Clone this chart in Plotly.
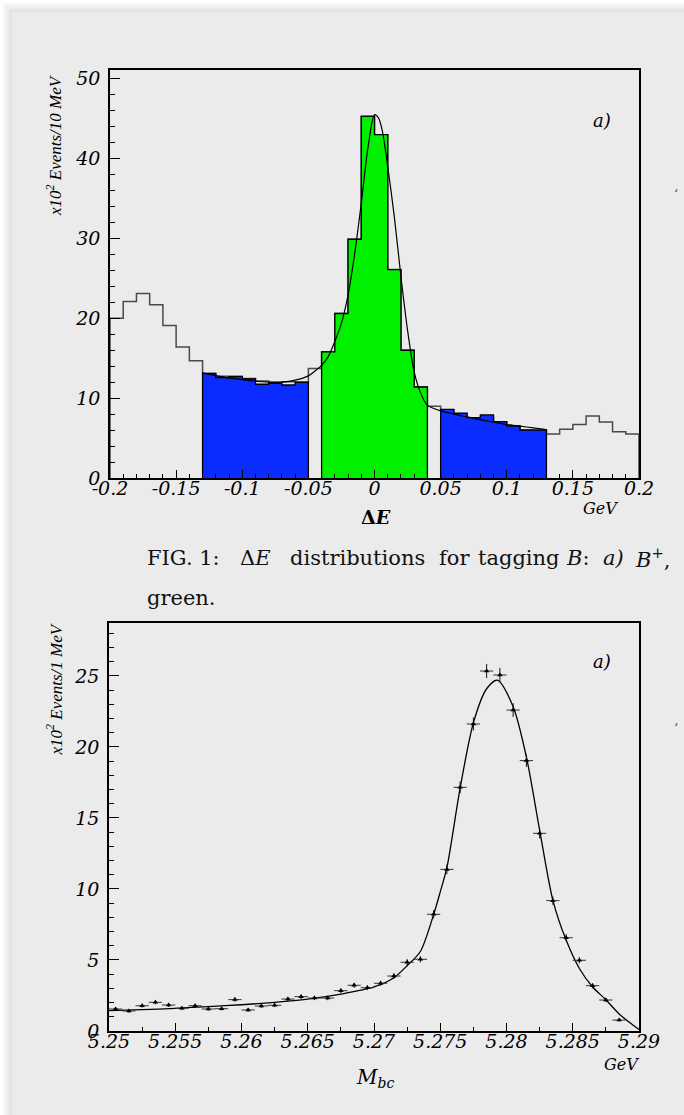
import plotly.graph_objects as go

W, H = 684, 1115

# ---------------- Data: top panel (Delta E histogram) ----------------
de_lo = -0.2
de_width = 0.01
# total (open) histogram, 40 bins from -0.2 to 0.2, units of 10^2 events / 10 MeV
de_total = [20.0, 22.1, 23.1, 21.7, 19.1, 16.4, 14.7,
            13.1, 12.75, 12.75, 12.45, 12.15, 12.0, 12.05, 12.0,
            13.7,
            15.8, 20.6, 29.9, 45.3, 43.0, 26.1, 16.0, 11.4,
            9.0,
            8.55, 8.1, 7.55, 7.6, 7.05, 6.55, 6.05, 6.0,
            5.5, 6.1, 6.7, 7.75, 7.0, 5.8, 5.5]
# signal window (green) bins -0.04..0.04
de_green_start = 16
de_green = [15.8, 20.6, 29.9, 45.3, 43.0, 26.1, 16.0, 11.4]
# side-band (blue) bins -0.13..-0.05 and 0.05..0.13
de_blue_left_start = 7
de_blue_left = [13.1, 12.57, 12.7, 12.4, 11.74, 11.86, 11.65, 11.99]
de_blue_right_start = 25
de_blue_right = [8.6, 8.1, 7.56, 7.9, 7.06, 6.5, 6.0, 6.0]
# fit curve
de_fit_x = [-0.13, -0.12, -0.11, -0.10, -0.09, -0.08, -0.07, -0.06, -0.05, -0.045,
            -0.04, -0.035, -0.03, -0.025, -0.02, -0.015, -0.01, -0.005, 0.0, 0.003,
            0.006, 0.01, 0.015, 0.02, 0.025, 0.03, 0.035, 0.04, 0.045, 0.05,
            0.06, 0.07, 0.08, 0.09, 0.10, 0.11, 0.12, 0.13]
de_fit_y = [13.17, 12.83, 12.54, 12.33, 12.12, 12.0, 12.0, 12.25, 12.79, 13.4,
            14.1, 15.2, 17.1, 19.4, 22.9, 28.1, 34.4, 41.3, 45.5, 45.1,
            43.4, 39.0, 32.7, 25.2, 18.5, 13.3, 10.6, 9.1, 8.7, 8.4,
            8.0, 7.65, 7.3, 7.0, 6.7, 6.5, 6.27, 6.06]
de_ticks = [-0.2, -0.15, -0.1, -0.05, 0, 0.05, 0.1, 0.15, 0.2]
de_ticktext = ["-0.2", "-0.15", "-0.1", "-0.05", "0", "0.05", "0.1", "0.15", "0.2"]
de_yticks = [0, 10, 20, 30, 40, 50]
de_yticktext = ["0", "10", "20", "30", "40", "50"]

# ---------------- Data: bottom panel (Mbc) ----------------
mbc_x = [5.2505, 5.2515, 5.2525, 5.2535, 5.2545, 5.2555, 5.2565, 5.2575, 5.2585, 5.2595,
         5.2605, 5.2615, 5.2625, 5.2635, 5.2645, 5.2655, 5.2665, 5.2675, 5.2685, 5.2695,
         5.2705, 5.2715, 5.2725, 5.2735, 5.2745, 5.2755, 5.2765, 5.2775, 5.2785, 5.2795,
         5.2805, 5.2815, 5.2825, 5.2835, 5.2845, 5.2855, 5.2865, 5.2875, 5.2885]
mbc_y = [1.55, 1.41, 1.78, 2.02, 1.83, 1.60, 1.78, 1.55, 1.57, 2.21,
         1.48, 1.76, 1.81, 2.25, 2.42, 2.32, 2.32, 2.84, 3.22, 3.05,
         3.36, 3.87, 4.84, 5.05, 8.22, 11.38, 17.16, 21.62, 25.35, 25.07,
         22.6, 19.04, 13.92, 9.18, 6.57, 4.98, 3.19, 2.18, 0.77]
mbc_err = [0.12, 0.12, 0.13, 0.14, 0.14, 0.13, 0.13, 0.12, 0.13, 0.15,
           0.12, 0.13, 0.13, 0.15, 0.16, 0.15, 0.15, 0.17, 0.18, 0.17,
           0.18, 0.20, 0.22, 0.22, 0.29, 0.34, 0.41, 0.46, 0.50, 0.50,
           0.48, 0.44, 0.37, 0.30, 0.26, 0.22, 0.18, 0.15, 0.09]
mbc_halfbin = 0.0005
mbc_fit_x = [5.25, 5.2525, 5.255, 5.2575, 5.26, 5.2625, 5.265, 5.2675, 5.27, 5.2715,
             5.2725, 5.2735, 5.2745, 5.275, 5.2755, 5.2765, 5.2775, 5.2785, 5.2793, 5.2805,
             5.2815, 5.2825, 5.2835, 5.2845, 5.2855, 5.2865, 5.2875, 5.2885, 5.29]
mbc_fit_y = [1.43, 1.5, 1.6, 1.72, 1.85, 2.02, 2.25, 2.6, 3.1, 3.75,
             4.6, 5.6, 8.2, 9.8, 11.5, 17.1, 21.7, 24.1, 24.7, 22.84,
             19.3, 14.15, 9.2, 6.4, 4.4, 3.1, 2.2, 1.2, 0.1]
mbc_ticks = [5.25, 5.255, 5.26, 5.265, 5.27, 5.275, 5.28, 5.285, 5.29]
mbc_ticktext = ["5.25", "5.255", "5.26", "5.265", "5.27", "5.275", "5.28", "5.285", "5.29"]
mbc_yticks = [0, 5, 10, 15, 20, 25]
mbc_yticktext = ["0", "5", "10", "15", "20", "25"]

# caption words (text, left edge in px)
caption_words = [("FIG. 1:", 145), ("Δ<i>E</i>", 238), ("distributions", 288),
                 ("for", 437), ("tagging", 476), ("<i>B</i>:", 564), ("<i>a)</i>", 601),
                 ("<i>B</i><sup>+</sup>,", 633)]

# ---------------- Styling ----------------
CARD = "#ebebeb"
GREEN = "#00f000"
BLUE = "#0c2cff"
TICKFONT = dict(family="DejaVu Serif", size=19, color="black")


def px(x):
    return x / W


def py(y):
    return 1 - y / H


def ital(labels):
    return ["<i>%s</i>" % t for t in labels]


def step_path(lo, width, vals):
    xs, ys = [lo], [0]
    for i, v in enumerate(vals):
        xs.append(lo + i * width)
        ys.append(v)
    end = lo + len(vals) * width
    xs += [end, end]
    ys += [vals[-1], 0]
    return xs, ys


fig = go.Figure()

# top panel: open histogram
xs, ys = step_path(de_lo, de_width, de_total)
fig.add_trace(go.Scatter(x=xs, y=ys, mode="lines", line=dict(color="#4a4a4a", width=1.5, shape="hv"),
                         xaxis="x", yaxis="y", hoverinfo="skip", showlegend=False))
# filled regions
for start, vals, col in [(de_blue_left_start, de_blue_left, BLUE),
                         (de_green_start, de_green, GREEN),
                         (de_blue_right_start, de_blue_right, BLUE)]:
    xs, ys = step_path(de_lo + start * de_width, de_width, vals)
    fig.add_trace(go.Scatter(x=xs, y=ys, mode="lines", fill="toself", fillcolor=col,
                             line=dict(color="black", width=1.3, shape="hv"),
                             xaxis="x", yaxis="y", hoverinfo="skip", showlegend=False))
# fit curve
fig.add_trace(go.Scatter(x=de_fit_x, y=de_fit_y, mode="lines",
                         line=dict(color="black", width=1.2, shape="spline", smoothing=0.8),
                         xaxis="x", yaxis="y", hoverinfo="skip", showlegend=False))

# bottom panel: fit + points
fig.add_trace(go.Scatter(x=mbc_fit_x, y=mbc_fit_y, mode="lines",
                         line=dict(color="black", width=1.3, shape="spline", smoothing=0.8),
                         xaxis="x2", yaxis="y2", hoverinfo="skip", showlegend=False))
fig.add_trace(go.Scatter(x=mbc_x, y=mbc_y, mode="markers",
                         marker=dict(symbol="triangle-up", size=5, color="black"),
                         error_x=dict(type="constant", value=mbc_halfbin, width=0, thickness=1, color="#333"),
                         error_y=dict(type="data", array=mbc_err, width=0, thickness=1, color="#111"),
                         xaxis="x2", yaxis="y2", hoverinfo="skip", showlegend=False))


def xaxis(dom, rng, tv, tt, minor_dtick, anchor):
    return dict(domain=dom, range=rng, anchor=anchor, tickmode="array", tickvals=tv, ticktext=ital(tt),
                ticks="inside", ticklen=8, tickwidth=1.3, tickcolor="black", automargin=False,
                minor=dict(ticks="inside", ticklen=4, tickwidth=1.1, tickcolor="black",
                           tickmode="linear", tick0=rng[0], dtick=minor_dtick),
                showline=True, linecolor="black", linewidth=1.6, mirror=True,
                showgrid=False, zeroline=False, tickfont=TICKFONT, ticklabelstandoff=-8)


def yaxis(dom, rng, tv, tt, minor_dtick, anchor):
    return dict(domain=dom, range=rng, anchor=anchor, tickmode="array", tickvals=tv, ticktext=ital(tt),
                ticks="inside", ticklen=10, tickwidth=1.3, tickcolor="black", automargin=False,
                minor=dict(ticks="inside", ticklen=5, tickwidth=1.1, tickcolor="black",
                           tickmode="linear", tick0=0, dtick=minor_dtick),
                showline=True, linecolor="black", linewidth=1.6, mirror=True,
                showgrid=False, zeroline=False, tickfont=TICKFONT, ticklabelstandoff=4)


top_x = [px(110), px(639)]
top_y = [py(478), py(70)]
bot_x = [px(109), px(639)]
bot_y = [py(1031), py(623)]

shapes = []
# soft shadow around the page card
for i in range(1, 11):
    shapes.append(dict(type="rect", xref="paper", yref="paper", layer="below",
                       x0=px(12 - i), x1=1.05, y0=-0.05, y1=py(12 - i),
                       fillcolor="rgba(0,0,0,0.012)", line=dict(width=0)))
shapes.append(dict(type="rect", xref="paper", yref="paper", layer="below",
                   x0=px(12), x1=1.05, y0=-0.05, y1=py(12),
                   fillcolor=CARD, line=dict(width=0)))

ann = []
title_font = dict(family="Liberation Serif", color="black", size=17)
ann.append(dict(text="<i>x10<sup>2</sup> Events/10 MeV</i>", x=px(54), y=py(72), xref="paper", yref="paper",
                textangle=-90, xanchor="center", yanchor="top", showarrow=False, font=title_font))
ann.append(dict(text="<i>x10<sup>2</sup> Events/1 MeV</i>", x=px(54), y=py(621), xref="paper", yref="paper",
                textangle=-90, xanchor="center", yanchor="top", showarrow=False, font=title_font))
dv = dict(family="DejaVu Serif", color="black")
ann.append(dict(text="<i>a)</i>", x=px(613), y=py(108), xref="paper", yref="paper", showarrow=False,
                font=dict(dv, size=18)))
ann.append(dict(text="<i>a)</i>", x=px(613), y=py(661), xref="paper", yref="paper", showarrow=False,
                font=dict(dv, size=18)))
ann.append(dict(text="<b>Δ<i>E</i></b>", x=px(376), y=py(517), xref="paper", yref="paper", showarrow=False,
                font=dict(dv, size=19)))
ann.append(dict(text="<i>GeV</i>", x=px(620), y=py(508), xref="paper", yref="paper", showarrow=False,
                font=dict(dv, size=16)))
ann.append(dict(text="<i>M<sub>bc</sub></i>", x=px(375), y=py(1063), xref="paper", yref="paper",
                xanchor="center", yanchor="top", showarrow=False, font=dict(dv, size=20)))
ann.append(dict(text="<i>GeV</i>", x=px(621), y=py(1053), xref="paper", yref="paper",
                xanchor="center", yanchor="top", showarrow=False, font=dict(dv, size=16)))
for word, xl in caption_words:
    ann.append(dict(text=word, x=px(xl), y=py(558), xref="paper", yref="paper", xanchor="left",
                    yanchor="middle", showarrow=False, font=dict(family="DejaVu Serif", size=21, color="#111")))
ann.append(dict(text="green.", x=px(145), y=py(598), xref="paper", yref="paper", xanchor="left",
                yanchor="middle", showarrow=False, font=dict(family="DejaVu Serif", size=21, color="#111")))
for yy in (185, 728):
    ann.append(dict(text="‘", x=px(680), y=py(yy), xref="paper", yref="paper", showarrow=False,
                    font=dict(family="DejaVu Serif", size=13, color="#444")))

fig.update_layout(
    width=W, height=H, margin=dict(l=0, r=0, t=0, b=0, autoexpand=False),
    paper_bgcolor="#ffffff", plot_bgcolor="rgba(0,0,0,0)",
    xaxis=xaxis(top_x, [-0.2, 0.2], de_ticks, de_ticktext, 0.01, "y"),
    yaxis=yaxis(top_y, [0, 51.1], de_yticks, de_yticktext, 2, "x"),
    xaxis2=xaxis(bot_x, [5.25, 5.29], mbc_ticks, mbc_ticktext, 0.0025, "y2"),
    yaxis2=yaxis(bot_y, [0, 28.73], mbc_yticks, mbc_yticktext, 1, "x2"),
    shapes=shapes, annotations=ann, showlegend=False,
)

fig.write_html("out.html")
